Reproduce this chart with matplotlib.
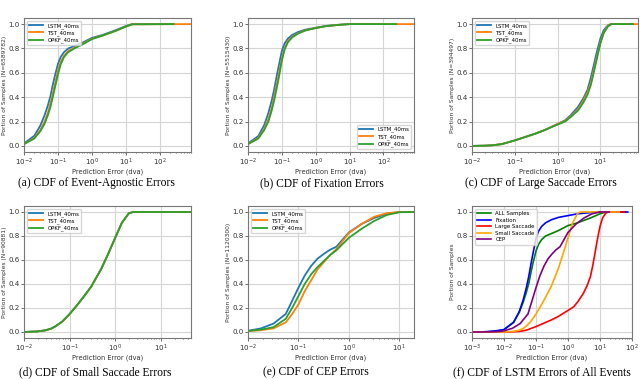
import matplotlib
matplotlib.use("Agg")
import matplotlib.pyplot as plt

# ---------------- data ----------------
series_names = ["LSTM_40ms", "TST_40ms", "OPKF_40ms"]
series_colors = ["#1f77b4", "#ff7f0e", "#2ca02c"]

# (a) event-agnostic
a_x = [0.01, 0.02, 0.03, 0.04, 0.05, 0.06, 0.07, 0.08, 0.1, 0.12, 0.15, 0.2, 0.3, 0.5, 1, 2, 5, 10, 15]
a_lstm = [0.02, 0.083, 0.165, 0.25, 0.33, 0.41, 0.5, 0.57, 0.675, 0.73, 0.77, 0.80, 0.82, 0.845, 0.887, 0.91, 0.95, 0.985, 1.0]
a_tst = [0.015, 0.065, 0.13, 0.2, 0.27, 0.35, 0.43, 0.5, 0.62, 0.69, 0.74, 0.78, 0.805, 0.835, 0.88, 0.905, 0.945, 0.98, 0.998]
a_opkf = [0.015, 0.06, 0.12, 0.18, 0.25, 0.32, 0.4, 0.47, 0.59, 0.67, 0.73, 0.77, 0.80, 0.83, 0.877, 0.905, 0.945, 0.98, 0.998]
a_end = [250, 810, 250]

# (b) fixation
b_x = [0.01, 0.02, 0.03, 0.04, 0.05, 0.06, 0.07, 0.08, 0.1, 0.12, 0.15, 0.2, 0.3, 0.5, 1, 2, 5, 10]
b_lstm = [0.02, 0.08, 0.17, 0.27, 0.37, 0.47, 0.57, 0.65, 0.78, 0.84, 0.88, 0.91, 0.935, 0.955, 0.97, 0.985, 0.995, 1.0]
b_tst = [0.015, 0.065, 0.14, 0.22, 0.31, 0.41, 0.5, 0.58, 0.72, 0.8, 0.86, 0.895, 0.925, 0.95, 0.968, 0.983, 0.994, 1.0]
b_opkf = [0.015, 0.06, 0.13, 0.2, 0.29, 0.38, 0.47, 0.55, 0.7, 0.79, 0.85, 0.89, 0.922, 0.948, 0.967, 0.983, 0.994, 1.0]
b_end = [74, 800, 240]

# (c) large saccade
c_x = [0.01, 0.02, 0.03, 0.05, 0.1, 0.2, 0.3, 0.5, 1, 1.5, 2, 3, 4, 5, 6, 7, 8, 9, 10, 12, 15, 18]
c_lstm = [0.0, 0.002, 0.005, 0.015, 0.045, 0.08, 0.1, 0.13, 0.18, 0.21, 0.25, 0.32, 0.39, 0.46, 0.56, 0.66, 0.75, 0.82, 0.88, 0.95, 0.99, 1.0]
c_tst = [0.0, 0.002, 0.005, 0.015, 0.045, 0.08, 0.1, 0.13, 0.18, 0.205, 0.24, 0.3, 0.37, 0.44, 0.52, 0.62, 0.71, 0.78, 0.85, 0.93, 0.985, 1.0]
c_opkf = [0.0, 0.002, 0.005, 0.015, 0.045, 0.08, 0.1, 0.13, 0.175, 0.2, 0.235, 0.29, 0.355, 0.42, 0.5, 0.6, 0.69, 0.77, 0.84, 0.925, 0.98, 1.0]
c_end = [58, 76, 58]

# (d) small saccade
d_x = [0.01, 0.02, 0.03, 0.04, 0.05, 0.07, 0.1, 0.15, 0.2, 0.3, 0.5, 0.7, 1.0, 1.4, 2.0, 2.5]
d_lstm = [0.0, 0.005, 0.015, 0.03, 0.05, 0.09, 0.15, 0.23, 0.29, 0.38, 0.53, 0.65, 0.785, 0.91, 0.99, 1.0]
d_tst = [0.0, 0.005, 0.014, 0.028, 0.048, 0.088, 0.148, 0.228, 0.29, 0.38, 0.53, 0.65, 0.785, 0.91, 0.99, 1.0]
d_opkf = [0.0, 0.005, 0.014, 0.029, 0.049, 0.089, 0.149, 0.229, 0.29, 0.38, 0.53, 0.65, 0.785, 0.91, 0.99, 1.0]
d_end = [40, 46, 44]

# (e) CEP
e_x = [0.01, 0.018, 0.032, 0.056, 0.075, 0.1, 0.133, 0.178, 0.237, 0.316, 0.42, 0.562, 1.0, 1.78, 3.16, 5.62, 10]
e_lstm = [0.01, 0.03, 0.07, 0.15, 0.26, 0.37, 0.47, 0.55, 0.61, 0.65, 0.685, 0.71, 0.83, 0.9, 0.95, 0.985, 1.0]
e_tst = [0.008, 0.015, 0.03, 0.08, 0.15, 0.23, 0.34, 0.43, 0.52, 0.58, 0.64, 0.69, 0.825, 0.9, 0.96, 0.99, 1.0]
e_opkf = [0.008, 0.02, 0.04, 0.11, 0.2, 0.30, 0.40, 0.48, 0.54, 0.59, 0.64, 0.68, 0.785, 0.86, 0.925, 0.975, 0.998]
e_end = [19.5, 19.5, 19.5]

# (f) LSTM errors of all events (low-error head below 1e-2)
f_names = ["ALL Samples", "Fixation", "Large Saccade", "Small Saccade", "CEP"]
f_colors = ["green", "blue", "red", "orange", "purple"]
f_head_x = [0.001, 0.002, 0.003, 0.005, 0.007]
f_head_all = [0.0, 0.001, 0.002, 0.006, 0.011]
f_head_fix = [0.0, 0.001, 0.003, 0.008, 0.014]
f_head_large = [0.0, 0.0, 0.0, 0.0, 0.0]
f_head_small = [0.0, 0.0, 0.0, 0.0, 0.0]
f_head_cep = [0.0, 0.0, 0.001, 0.002, 0.004]
f_end = [60, 74, 58, 40, 19.5]

ylabels = ["Portion of Samples (N=6589782)", "Portion of Samples (N=5515430)",
           "Portion of Samples (N=394497)", "Portion of Samples (N=90881)",
           "Portion of Samples (N=1120300)", "Portion of Samples"]
captions = ["(a) CDF of Event-Agnostic Errors", "(b) CDF of Fixation Errors",
            "(c) CDF of Large Saccade Errors", "(d) CDF of Small Saccade Errors",
            "(e) CDF of CEP Errors", "(f) CDF of LSTM Errors of All Events"]

# ---------------- figure ----------------
W, H = 640, 379
fig = plt.figure(figsize=(W / 100, H / 100), dpi=100)

def box(l, t, r, b):
    return [l / W, 1 - b / H, (r - l) / W, (b - t) / H]

rects = [box(24, 18, 191, 152), box(248, 18, 414, 152), box(472, 18, 638, 152),
         box(24, 206, 191, 338), box(248, 206, 414, 338), box(472, 206, 632, 338)]
axes = [fig.add_axes(r) for r in rects]

def style(ax, ylabel):
    ax.set_xscale("log")
    ax.set_ylim(-0.05, 1.05)
    ax.set_yticks([0.0, 0.2, 0.4, 0.6, 0.8, 1.0])
    ax.grid(True, which="major", color="#d5d5d5", linewidth=0.8)
    ax.set_axisbelow(True)
    ax.tick_params(labelsize=5.1, length=2, width=0.5, pad=1.2, colors="#333333")
    ax.tick_params(which="minor", length=1, width=0.4)
    for s in ax.spines.values():
        s.set_color("#777777")
        s.set_linewidth(0.8)
    ax.set_xlabel("Prediction Error (dva)", fontsize=4.8, labelpad=0.5, color="#333333")
    ax.set_ylabel(ylabel, fontsize=4.3, labelpad=0.8, color="#333333")

panels = [
    (a_x, [a_lstm, a_tst, a_opkf], a_end, "upper left"),
    (b_x, [b_lstm, b_tst, b_opkf], b_end, "lower right"),
    (c_x, [c_lstm, c_tst, c_opkf], c_end, "upper left"),
    (d_x, [d_lstm, d_tst, d_opkf], d_end, "upper left"),
    (e_x, [e_lstm, e_tst, e_opkf], e_end, "upper left"),
]

for i, (xs, ys_list, ends, loc) in enumerate(panels):
    ax = axes[i]
    for name, col, ys, end in zip(series_names, series_colors, ys_list, ends):
        ax.plot(xs + [end], ys + [1.0], color=col, lw=1.3, label=name)
    ax.set_xlim(1e-2, max(ends))
    style(ax, ylabels[i])
    ax.legend(loc=loc, fontsize=3.9, handlelength=2.6, labelspacing=0.3,
              borderpad=0.4, handletextpad=0.8, framealpha=0.8)

# (f)
ax = axes[5]
f_sets = [
    (f_head_all, a_x, a_lstm),
    (f_head_fix, b_x, b_lstm),
    (f_head_large, c_x, c_lstm),
    (f_head_small, d_x, d_lstm),
    (f_head_cep, e_x, e_lstm),
]
for name, col, (head, xs, ys), end in zip(f_names, f_colors, f_sets, f_end):
    ax.plot(f_head_x + xs + [end], head + ys + [1.0], color=col, lw=1.2, label=name)
ax.set_xlim(1e-3, 1e2)
style(ax, ylabels[5])
ax.legend(loc="upper left", fontsize=3.9, handlelength=2.6, labelspacing=0.3,
          borderpad=0.4, handletextpad=0.8, framealpha=0.8)

cap_pos = [(96, 183), (322, 183), (541, 183), (95, 372), (316, 372), (542, 372)]
for (cx, cy), txt in zip(cap_pos, captions):
    fig.text(cx / W, 1 - cy / H, txt, ha="center", va="center",
             family="Liberation Serif", fontsize=8.3)

fig.savefig("out.png", dpi=100)
